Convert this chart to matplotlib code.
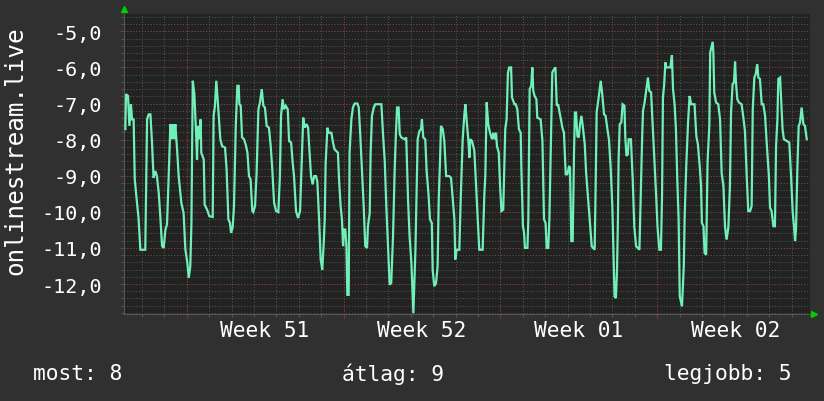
import matplotlib
matplotlib.use("Agg")
import matplotlib.pyplot as plt
from matplotlib.ticker import FixedLocator, FuncFormatter, NullFormatter

plt.rcParams['axes.unicode_minus'] = False
plt.rcParams['font.family'] = ['DejaVu Sans Mono']

# time in days from the left edge of the plot, value of the series
days = [0.06, 0.09, 0.18, 0.24, 0.31, 0.36, 0.43, 0.48, 0.58, 0.65, 0.73, 0.95, 1.03, 1.10, 1.18, 1.25,
        1.32, 1.40, 1.47, 1.55, 1.62, 1.70, 1.77, 1.85, 1.92, 1.99, 2.07, 2.14, 2.19, 2.25, 2.29, 2.37,
        2.44, 2.56, 2.66, 2.74, 2.83, 2.89, 2.96, 3.01, 3.07, 3.14, 3.21, 3.26, 3.30, 3.36, 3.42, 3.45,
        3.56, 3.60, 3.71, 3.81, 3.96, 4.00, 4.06, 4.12, 4.20, 4.30, 4.38,
        4.51, 4.58, 4.66, 4.73, 4.78, 4.85, 4.91, 4.99, 5.06, 5.12, 5.15, 5.21, 5.27, 5.36, 5.45, 5.51,
        5.58, 5.65, 5.73, 5.77, 5.85, 5.92, 6.00, 6.07, 6.15, 6.22, 6.29, 6.37, 6.47, 6.55, 6.62, 6.70,
        6.79, 6.89, 6.96, 7.01, 7.08, 7.14, 7.22, 7.31, 7.37, 7.46, 7.53, 7.59, 7.68, 7.77, 7.86, 7.93,
        8.00, 8.07, 8.15, 8.22, 8.27, 8.35, 8.42, 8.49, 8.57, 8.63,
        8.71, 8.78, 8.85, 8.91, 8.96, 9.00, 9.08, 9.14, 9.26, 9.33, 9.40, 9.55, 9.60, 9.67, 9.73, 9.78,
        9.82, 9.88, 9.93, 9.97, 10.03, 10.07, 10.15, 10.22, 10.30, 10.42, 10.48, 10.55, 10.63, 10.70,
        10.77, 10.85, 10.89, 10.97, 11.01, 11.07, 11.15, 11.22, 11.49, 11.56, 11.64, 11.71, 11.79, 11.86,
        11.93, 12.01, 12.08, 12.13, 12.19, 12.26, 12.31, 12.38, 12.53, 12.60, 12.68, 12.75, 12.83, 12.92,
        13.01, 13.07, 13.11,
        13.19, 13.26, 13.30, 13.36, 13.45, 13.51, 13.59, 13.66, 13.74, 13.78, 13.85, 13.93, 14.00, 14.05,
        14.11, 14.15, 14.23, 14.30, 14.38, 14.52, 14.60, 14.67, 14.75, 14.79, 14.85, 14.97, 15.04, 15.12,
        15.19, 15.24, 15.31, 15.37, 15.42, 15.46, 15.54, 15.64, 15.71, 15.79, 15.86, 16.01, 16.09, 16.13,
        16.19, 16.26, 16.34, 16.43, 16.49, 16.55, 16.61, 16.65, 16.73, 16.79, 16.85, 16.93, 17.02, 17.08,
        17.14, 17.20, 17.28, 17.32, 17.43,
        17.49, 17.56, 17.63, 17.71, 17.74, 17.81, 17.86, 17.90, 18.01, 18.05, 18.11, 18.18, 18.23, 18.27,
        18.33, 18.41, 18.45, 18.60, 18.68, 18.75, 18.82, 18.87, 18.94, 18.99, 19.05, 19.12, 19.20, 19.26,
        19.32, 19.38, 19.43, 19.49, 19.57, 19.64, 19.72, 19.79, 19.87, 19.91, 19.97, 20.03, 20.09, 20.13,
        20.18, 20.24, 20.30, 20.36, 20.42, 20.48, 20.57, 20.63, 20.71, 20.80, 20.88, 21.01, 21.06, 21.10,
        21.16, 21.22, 21.28, 21.35, 21.43, 21.50, 21.58, 21.65, 21.73, 21.80, 21.85,
        21.90, 21.96, 22.01, 22.05, 22.08, 22.13, 22.20, 22.26, 22.34, 22.38, 22.43, 22.49, 22.53, 22.63,
        22.71, 22.78, 22.86, 23.01, 23.07, 23.13, 23.17, 23.24, 23.32, 23.39, 23.45, 23.53, 23.59, 23.66,
        23.75, 23.82, 23.90, 23.97, 24.02, 24.06, 24.11, 24.17, 24.21, 24.39, 24.46, 24.51, 24.58, 24.64,
        24.70, 24.76, 24.81, 24.91, 24.99, 25.03, 25.10, 25.18, 25.25, 25.32, 25.47, 25.55, 25.62, 25.70,
        25.76, 25.80, 25.87, 25.92, 25.99, 26.05, 26.13,
        26.17, 26.28, 26.31, 26.35, 26.43, 26.53, 26.61, 26.68, 26.76, 26.83, 26.90, 26.98, 27.05, 27.10,
        27.17, 27.23, 27.28, 27.32, 27.38, 27.45, 27.57, 27.65, 27.72, 27.80, 27.87, 27.95, 28.02, 28.07,
        28.14, 28.20, 28.27, 28.32, 28.39, 28.47, 28.54, 28.62, 28.69, 28.79, 28.84, 28.91, 28.99, 29.06,
        29.11, 29.17, 29.21, 29.29, 29.33, 29.40, 29.46, 29.70, 29.78, 29.85, 29.91, 29.96, 30.00, 30.06,
        30.12, 30.18, 30.25, 30.33, 30.40, 30.48]

values = [-7.71, -6.74, -6.79, -7.62, -7.02, -7.44, -7.44, -9.10, -9.75, -10.17, -11.05, -11.05, -7.44, -7.30, -7.30, -8.08,
          -9.06, -8.87, -9.01, -9.47, -10.12, -10.95, -11.00, -10.49, -10.35, -9.10, -7.57, -7.99, -7.57, -7.99, -7.57, -8.27,
          -9.01, -9.75, -10.03, -11.05, -11.42, -11.83, -11.51, -10.31, -6.37, -6.74, -7.71, -8.55, -7.62, -7.99, -7.44, -8.36,
          -8.55, -9.80, -9.94, -10.12, -10.14, -7.34, -7.06, -6.37, -7.06, -7.99, -8.18,
          -8.22, -8.82, -10.21, -10.31, -10.58, -10.44, -9.84, -7.62, -6.51, -6.51, -7.02, -7.06, -7.94, -7.99, -8.18, -8.36,
          -9.01, -9.10, -9.98, -10.01, -9.84, -8.92, -7.16, -6.97, -6.60, -7.06, -7.11, -7.62, -7.67, -8.18, -8.82, -9.75,
          -9.98, -10.01, -9.01, -7.34, -6.88, -7.16, -7.06, -7.16, -8.04, -8.08, -8.64, -9.01, -9.98, -10.17, -9.98, -8.64,
          -7.39, -7.67, -7.57, -7.67, -8.22, -9.01, -9.24, -9.01, -9.01, -9.15,
          -10.21, -11.32, -11.60, -10.95, -10.21, -8.69, -7.67, -7.81, -7.81, -8.08, -8.27, -8.36, -9.10, -9.84, -10.21, -10.95,
          -10.49, -10.49, -10.95, -12.30, -12.30, -8.36, -7.44, -7.11, -7.00, -7.00, -7.11, -7.90, -8.92, -9.84,
          -10.95, -11.00, -10.40, -10.03, -8.36, -7.34, -7.11, -7.02, -7.02, -7.81, -8.59, -9.84, -11.00, -12.02,
          -11.97, -10.68, -8.92, -7.99, -7.11, -7.11, -7.85, -7.94, -7.99, -7.94, -9.66, -10.68, -11.42, -12.81,
          -11.05, -9.29, -7.99,
          -7.76, -7.71, -7.44, -7.94, -7.99, -8.87, -9.47, -10.21, -10.31, -11.60, -12.06, -11.97, -11.51, -9.66,
          -8.55, -7.62, -7.71, -8.04, -9.01, -9.01, -9.06, -9.61, -10.21, -11.32, -11.05, -11.05, -9.47, -7.99,
          -7.34, -7.02, -7.57, -7.99, -8.50, -7.99, -8.04, -8.31, -9.19, -10.21, -11.05, -11.05, -9.47, -9.01,
          -6.97, -7.57, -7.81, -7.99, -7.81, -7.99, -7.81, -8.18, -8.36, -9.29, -9.98, -9.94, -7.71, -7.44,
          -6.14, -6.00, -6.00, -6.83, -7.02,
          -7.02, -7.16, -7.71, -7.81, -8.82, -10.40, -10.58, -11.00, -11.00, -10.21, -6.60, -6.51, -6.00, -6.65,
          -6.79, -6.88, -7.39, -7.44, -8.04, -10.21, -10.31, -11.00, -11.00, -10.21, -8.36, -6.14, -6.05, -6.00,
          -7.06, -7.02, -7.20, -7.39, -7.67, -7.81, -8.96, -8.96, -8.73, -8.78, -10.81, -10.81, -8.36, -7.25,
          -7.25, -7.90, -7.94, -7.57, -7.34, -7.62, -8.13, -8.92, -9.56, -10.31, -10.95, -11.05, -9.10, -7.25,
          -6.97, -6.69, -6.37, -6.74, -7.30, -7.34, -7.71, -7.99, -8.82, -9.84, -11.05,
          -12.34, -12.39, -11.60, -10.21, -8.55, -7.57, -7.53, -7.02, -7.06, -7.94, -8.45, -8.41, -7.99, -7.99,
          -9.10, -10.40, -10.95, -11.05, -9.47, -7.99, -7.20, -6.97, -6.60, -6.28, -6.65, -6.69, -7.44, -8.27,
          -9.47, -10.44, -11.05, -11.05, -9.56, -6.83, -6.51, -5.86, -6.00, -6.00, -5.66, -6.60, -7.02, -7.71,
          -9.10, -10.21, -12.34, -12.62, -11.51, -10.12, -8.73, -7.53, -6.79, -7.02, -7.02, -7.90, -8.13, -8.73,
          -9.29, -10.31, -10.40, -11.14, -11.19, -8.64, -7.62,
          -5.58, -5.29, -5.58, -6.69, -6.97, -7.02, -7.44, -8.92, -9.29, -10.40, -10.77, -10.44, -9.29, -7.25,
          -6.46, -6.42, -5.84, -6.42, -6.88, -6.97, -7.02, -7.39, -7.76, -9.01, -9.98, -9.98, -9.84, -7.16,
          -6.28, -6.19, -5.91, -6.28, -6.32, -7.02, -7.02, -7.34, -8.08, -9.01, -9.89, -9.98, -10.40, -10.40,
          -8.18, -7.44, -6.32, -6.28, -6.79, -7.71, -7.99, -8.08, -9.01, -9.98, -10.40, -10.81, -10.49, -8.82,
          -7.62, -7.53, -7.11, -7.57, -7.62, -7.99]

week_labels = ["Week 51", "Week 52", "Week 01", "Week 02"]
week_starts = [2.8, 9.8, 16.8, 23.8]
y_major = [-12, -11, -10, -9, -8, -7, -6, -5]
ylabel_text = "onlinestream.live"
legend_texts = ["most: 8", "átlag: 9", "legjobb: 5"]

BG = '#303030'
PLOT_BG = '#222222'
LINE = '#70f0b8'
MINOR = '#555555'
MAJOR = '#803838'
TXT = '#ffffff'

fig = plt.figure(figsize=(8.24, 4.02), dpi=100, facecolor=BG)
ax = fig.add_axes([124/824, 1-315/402, 686/824, 300/402])
ax.set_facecolor(PLOT_BG)

x_max = 686 / 22.4
ax.set_xlim(0, x_max)
ax.set_ylim(-12.83, -4.52)

# grid
minor_x = [0.8 + i for i in range(31) if 0.8 + i < x_max]
minor_y = [round(-12.8 + 0.2 * i, 2) for i in range(42)]
for xv in minor_x:
    ax.axvline(xv, color=MINOR, lw=0.75, dashes=(1, 1.8), zorder=1)
for yv in minor_y:
    ax.axhline(yv, color=MINOR, lw=0.75, dashes=(1, 1.8), zorder=1)
for xv in week_starts:
    ax.axvline(xv, color=MAJOR, lw=0.75, dashes=(1, 1.8), zorder=1.5)
for yv in y_major:
    ax.axhline(yv, color=MAJOR, lw=0.75, dashes=(1, 1.8), zorder=1.5)

ax.plot(days, values, color=LINE, lw=1.6, solid_joinstyle='miter', zorder=3)

for s in ['top', 'right']:
    ax.spines[s].set_visible(False)
for s in ['left', 'bottom']:
    ax.spines[s].set_color('#555555')
    ax.spines[s].set_linewidth(0.8)

ax.yaxis.set_major_locator(FixedLocator(y_major))
ax.yaxis.set_major_formatter(FuncFormatter(lambda v, p: f"{v:.1f}".replace('.', ',')))
ax.yaxis.set_minor_locator(FixedLocator(minor_y))
ax.tick_params(axis='y', which='major', length=3, width=0.8, color=MAJOR, pad=13,
               labelsize=14.5, labelcolor=TXT)
ax.tick_params(axis='y', which='minor', length=2, width=0.8, color=MINOR)

ax.xaxis.set_major_locator(FixedLocator(week_starts))
ax.xaxis.set_major_formatter(NullFormatter())
ax.xaxis.set_minor_locator(FixedLocator(minor_x))
ax.tick_params(axis='x', which='major', length=3, width=0.8, color=MAJOR)
ax.tick_params(axis='x', which='minor', length=2, width=0.8, color=MINOR)

for lbl, ws in zip(week_labels, week_starts):
    ax.text(ws + 3.5, -0.053, lbl, transform=ax.get_xaxis_transform(), ha='center', va='center',
            color=TXT, fontsize=15.3)

# arrows
ax.plot([0], [1.017], marker='^', color='#00d000', markersize=5, transform=ax.transAxes,
        clip_on=False, zorder=5)
ax.plot([1.006], [0], marker='>', color='#00d000', markersize=5, transform=ax.transAxes,
        clip_on=False, zorder=5)

fig.text(15/824, 1-151/402, ylabel_text, rotation=90, ha='center', va='center', color=TXT, fontsize=17.5)

fig.text(33/824, 1-374/402, legend_texts[0], ha='left', va='center', color=TXT, fontsize=15.3)
fig.text(393/824, 1-374/402, legend_texts[1], ha='center', va='center', color=TXT, fontsize=15.3)
fig.text(791/824, 1-374/402, legend_texts[2], ha='right', va='center', color=TXT, fontsize=15.3)

fig.savefig('out.png', dpi=100, facecolor=BG)
